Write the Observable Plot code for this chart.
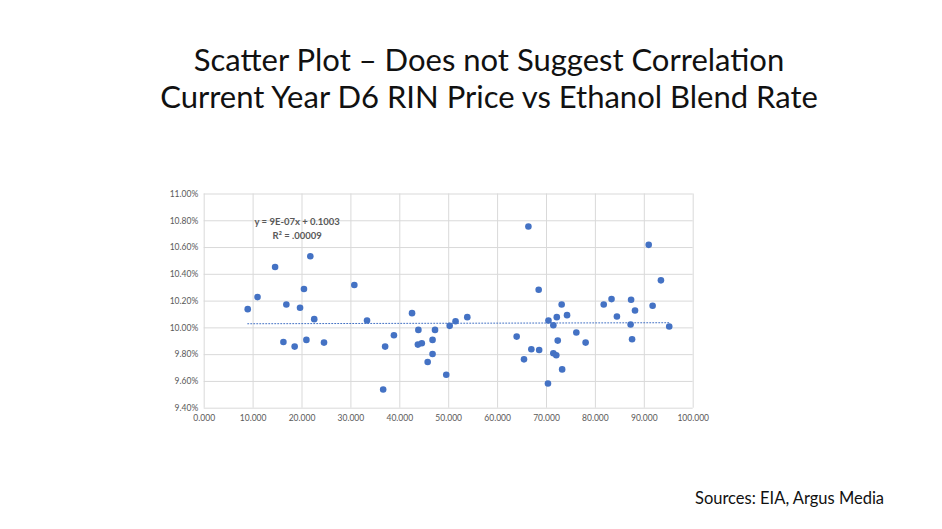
<!DOCTYPE html>
<html>
<head>
<meta charset="utf-8">
<script src="https://cdn.jsdelivr.net/npm/d3@7"></script>
<script src="https://cdn.jsdelivr.net/npm/@observablehq/plot@0.6"></script>
<style>
  html, body { margin: 0; padding: 0; background: #fff; }
  body { width: 942px; height: 529px; position: relative; overflow: hidden; font-family: Lato, "Open Sans", sans-serif; }
  .title { position: absolute; left: 0; width: 978px; text-align: center; font-size: 31px; color: #111; line-height: 37px; top: 41px; }
  .source { position: absolute; left: 695px; top: 488px; font-size: 16.5px; color: #111; }
  #chart { position: absolute; left: 0; top: 180px; }
</style>
</head>
<body>
<div class="title">Scatter Plot – Does not Suggest Correlation<br>Current Year D6 RIN Price vs Ethanol Blend Rate</div>
<div id="chart"></div>
<div class="source">Sources: EIA, Argus Media</div>
<script>
// Ethanol blend rate (x) vs D6 RIN price (y, %)
const blendX = [8.9, 10.9, 14.5, 16.2, 16.8, 18.5, 19.6, 20.4, 20.9, 21.7, 22.5, 24.5, 30.7, 33.3, 36.6, 37.0, 38.8, 42.5, 43.7, 43.8, 44.5, 45.7, 46.7, 46.7, 47.2, 49.5, 50.2, 51.4, 53.8, 63.9, 65.4, 66.3, 66.9, 68.4, 68.5, 70.3, 70.4, 71.4, 71.4, 72.0, 72.1, 72.3, 73.1, 73.2, 74.2, 76.1, 78.0, 81.7, 83.3, 84.4, 87.2, 87.3, 87.5, 88.1, 90.9, 91.7, 93.4, 95.1];
const rinY = [10.14, 10.23, 10.455, 9.895, 10.175, 9.86, 10.15, 10.29, 9.91, 10.535, 10.065, 9.89, 10.32, 10.055, 9.54, 9.86, 9.945, 10.11, 9.875, 9.985, 9.885, 9.745, 9.91, 9.805, 9.985, 9.65, 10.015, 10.05, 10.08, 9.935, 9.765, 10.757, 9.84, 10.285, 9.835, 9.585, 10.055, 10.02, 9.81, 9.795, 10.08, 9.905, 10.175, 9.69, 10.095, 9.965, 9.89, 10.175, 10.215, 10.085, 10.025, 10.21, 9.915, 10.13, 10.62, 10.165, 10.355, 10.01];

// Trend line from the chart's equation: y = 9E-07x + 0.1003
const trendSlope = 9e-7;
const trendIntercept = 0.1003;
const equationLines = ["y = 9E-07x + 0.1003", "R² = .00009"];

const xTicks = [0, 10, 20, 30, 40, 50, 60, 70, 80, 90, 100];
const yTicks = [9.4, 9.6, 9.8, 10.0, 10.2, 10.4, 10.6, 10.8, 11.0];

const points = blendX.map((x, i) => ({x, y: rinY[i]}));
const xMin = d3.min(blendX), xMax = d3.max(blendX);
const trend = [xMin, xMax].map(x => ({x, y: (trendSlope * x + trendIntercept) * 100}));

const W = 942, H = 250;
const plot = Plot.plot({
  width: W,
  height: H,
  marginLeft: 203.7,
  marginRight: W - 692.7,
  marginTop: 13.5,
  marginBottom: H - 227.7,
  style: {fontFamily: "Lato, 'Open Sans', sans-serif", fontSize: "8.5px", color: "#595959", background: "#fff"},
  x: {domain: [0, 100], ticks: xTicks, tickFormat: d => d.toFixed(3), tickSize: 0, tickPadding: 6, label: null},
  y: {domain: [9.4, 11.0], ticks: yTicks, tickFormat: d => d.toFixed(2) + "%", tickSize: 0, tickPadding: 6, label: null},
  marks: [
    Plot.gridX(xTicks, {stroke: "#d9d9d9", strokeOpacity: 1, strokeWidth: 1}),
    Plot.gridY(yTicks, {stroke: "#d9d9d9", strokeOpacity: 1, strokeWidth: 1}),
    Plot.axisX(xTicks, {tickSize: 0, tickPadding: 7, tickFormat: d => d.toFixed(3), fill: "#595959", fontSize: 8.5}),
    Plot.axisY(yTicks, {tickSize: 0, tickPadding: 6, tickFormat: d => d.toFixed(2) + "%", fill: "#595959", fontSize: 8.5}),
    Plot.line(trend, {x: "x", y: "y", stroke: "#4472C4", strokeWidth: 1, strokeDasharray: "1,2"}),
    Plot.dot(points, {x: "x", y: "y", r: 3.3, fill: "#4472C4", stroke: null}),
    Plot.text([equationLines.join("\n")], {frameAnchor: "top-left", dx: 93, dy: 22, text: d => d, fill: "#595959", fontSize: 9.5, fontWeight: "bold", lineHeight: 1.4, textAnchor: "middle"})
  ]
});
document.getElementById("chart").appendChild(plot);
</script>
</body>
</html>
